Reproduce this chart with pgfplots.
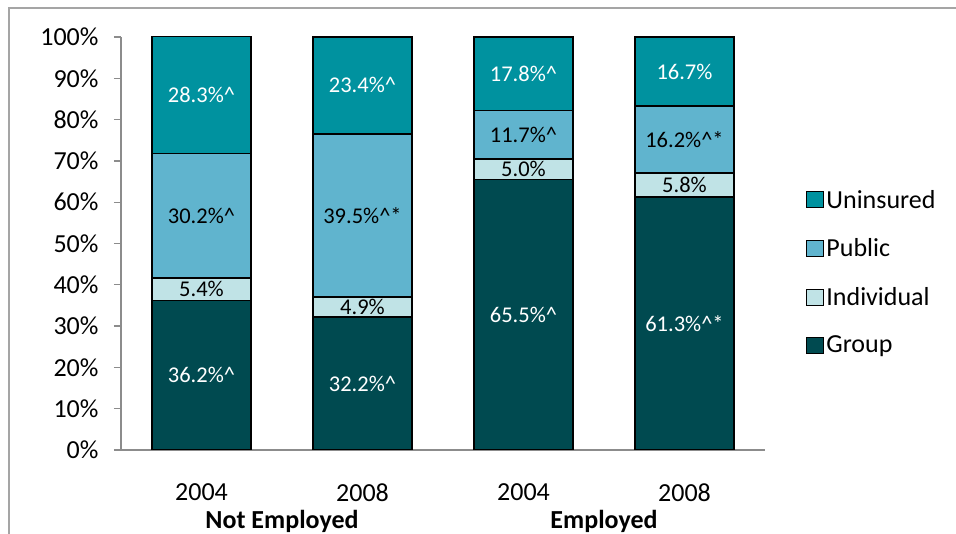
\documentclass[border=0pt]{standalone}
\usepackage{pgfplots}
\pgfplotsset{compat=1.18}
\usepackage{fontspec}
\setmainfont{Carlito}

\definecolor{cUnins}{RGB}{0,146,159}
\definecolor{cPublic}{RGB}{96,180,206}
\definecolor{cIndiv}{RGB}{192,227,230}
\definecolor{cGroup}{RGB}{0,74,80}
\definecolor{cAxis}{RGB}{140,140,140}

\begin{document}
\begin{tikzpicture}[x=1pt,y=1pt]
% picture frame: reference is 956 x 534, axis corner at (121,84) from bottom left
\useasboundingbox (-121,-84) rectangle (835,450);
\clip (-121,-84) rectangle (835,450);
\draw[color={rgb,255:red,165;green,165;blue,165}, line width=1.6pt] (-112,-100) -- (-112,442) -- (860,442);
\begin{axis}[
    at={(0,0)}, anchor=south west,
    scale only axis,
    width=644pt, height=413.4pt,
    ybar stacked,
    bar width=0.61,
    xmin=-0.5, xmax=3.5,
    ymin=0, ymax=100.1, % first bar sums to 100.1
    axis lines*=left,
    axis line style={cAxis, line width=1.2pt},
    tick align=outside,
    tick style={cAxis, line width=1.2pt},
    major tick length=7pt,
    minor tick length=7pt,
    xtick={0,1,2,3},
    xticklabels={2004,2008,2004,2008},
    x tick style={draw=none},
    minor xtick={-0.5,0.5,1.5,2.5,3.5},
    minor x tick style={cAxis, line width=1.2pt},
    extra x ticks={0.5,2.5},
    extra x tick labels={\textbf{Not Employed},\textbf{Employed}},
    extra x tick style={major tick length=0pt, tick style={draw=none},
        tick label style={yshift=-34pt}},
    ytick={0,10,...,100},
    yticklabel={\pgfmathprintnumber{\tick}\%},
    /pgf/number format/assume math mode=true,
    ticklabel style={font=\fontsize{26}{30}\selectfont},
    xticklabel style={yshift=-23pt},
    yticklabel style={xshift=-12pt},
    point meta=explicit symbolic,
    nodes near coords,
    every node near coord/.append style={anchor=center,
        font=\fontsize{22.5}{26}\selectfont},
    legend style={draw=none, at={(1.064,0.43)}, anchor=west,
        font=\fontsize{26}{30}\selectfont, row sep=25pt,
        inner sep=0pt, cells={anchor=west}},
    legend image code/.code={\draw[#1, draw=black, line width=1pt] (0pt,-8pt) rectangle (17pt,8pt);},
    reverse legend,
]
\addplot[fill=cGroup, draw=black, line width=1.8pt,
    every node near coord/.append style={text=white}]
    coordinates {(0,36.2) [36.2\%\textasciicircum] (1,32.2) [32.2\%\textasciicircum]
                 (2,65.5) [65.5\%\textasciicircum] (3,61.3) [61.3\%\textasciicircum*]};
\addplot[fill=cIndiv, draw=black, line width=1.8pt,
    every node near coord/.append style={text=black}]
    coordinates {(0,5.4) [5.4\%] (1,4.9) [4.9\%]
                 (2,5.0) [5.0\%] (3,5.8) [5.8\%]};
\addplot[fill=cPublic, draw=black, line width=1.8pt,
    every node near coord/.append style={text=black}]
    coordinates {(0,30.2) [30.2\%\textasciicircum] (1,39.5) [39.5\%\textasciicircum*]
                 (2,11.7) [11.7\%\textasciicircum] (3,16.2) [16.2\%\textasciicircum*]};
\addplot[fill=cUnins, draw=black, line width=1.8pt,
    every node near coord/.append style={text=white}]
    coordinates {(0,28.3) [28.3\%\textasciicircum] (1,23.4) [23.4\%\textasciicircum]
                 (2,17.8) [17.8\%\textasciicircum] (3,16.7) [16.7\%]};
\legend{Group,Individual,Public,Uninsured}
\end{axis}
\end{tikzpicture}
\end{document}
